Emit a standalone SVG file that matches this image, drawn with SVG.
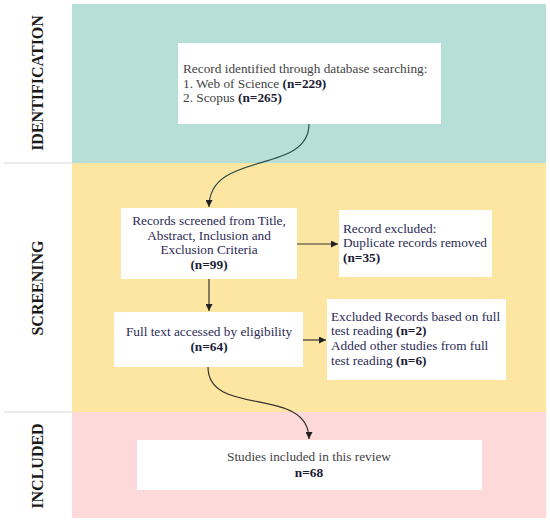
<svg xmlns="http://www.w3.org/2000/svg" width="550" height="522" viewBox="0 0 550 522">
<defs>
<marker id="ah" viewBox="0 0 10 10" refX="10" refY="5" markerWidth="7" markerHeight="7" markerUnits="userSpaceOnUse" orient="auto">
<path d="M0,0 L10,5 L0,10 z" fill="#222"/>
</marker>
<style>
.box{fill:#fff}
.t{font-family:"Liberation Serif","Times New Roman",serif;font-size:13.3px;fill:#2b2b55}
.g{fill:#444}
.b{font-weight:bold;fill:#1a1a33}
.lbl{font-family:"Liberation Serif","Times New Roman",serif;font-size:16px;font-weight:bold;fill:#1a1a1a;text-anchor:middle}
.c{fill:none;stroke:#333;stroke-width:1.2}
.sep{stroke:#e6e6e6;stroke-width:1.5}
</style>
</defs>
<rect width="550" height="522" fill="#fff"/>
<g id="bands">
<rect x="72" y="4" width="474" height="159" fill="#b6dfd8"/>
<rect x="72" y="163" width="474" height="249" fill="#fde6a1"/>
<rect x="72" y="412" width="474" height="106" fill="#fdd9da"/>
<line class="sep" x1="4" y1="163" x2="72" y2="163"/>
<line class="sep" x1="4" y1="412" x2="72" y2="412"/>
</g>
<g id="labels">
<text class="lbl" transform="translate(42.5,83) rotate(-90)">IDENTIFICATION</text>
<text class="lbl" transform="translate(42.5,288) rotate(-90)">SCREENING</text>
<text class="lbl" transform="translate(42.5,466) rotate(-90)">INCLUDED</text>
</g>
<g id="identified">
<rect class="box" x="178" y="43" width="263" height="81"/>
<text class="t g" x="183" y="73">Record identified through database searching:</text>
<text class="t g" x="183" y="88">1. Web of Science <tspan class="b">(n=229)</tspan></text>
<text class="t g" x="183" y="102">2. Scopus <tspan class="b">(n=265)</tspan></text>
</g>
<g id="screened">
<rect class="box" x="121" y="208" width="176" height="71"/>
<text class="t" x="209" y="225" text-anchor="middle">Records screened from Title,</text>
<text class="t" x="209" y="240" text-anchor="middle">Abstract, Inclusion and</text>
<text class="t" x="209" y="254" text-anchor="middle">Exclusion Criteria</text>
<text class="t b" x="209" y="269" text-anchor="middle">(n=99)</text>
</g>
<g id="excluded1">
<rect class="box" x="339" y="210" width="153" height="67"/>
<text class="t" x="343" y="233">Record excluded:</text>
<text class="t" x="343" y="247">Duplicate records removed</text>
<text class="t b" x="343" y="262">(n=35)</text>
</g>
<g id="fulltext">
<rect class="box" x="114" y="312" width="189" height="55"/>
<text class="t" x="209" y="336" text-anchor="middle">Full text accessed by eligibility</text>
<text class="t b" x="209" y="351" text-anchor="middle">(n=64)</text>
</g>
<g id="excluded2">
<rect class="box" x="327" y="299" width="179" height="81"/>
<text class="t" x="331" y="321">Excluded Records based on full</text>
<text class="t" x="331" y="335">test reading <tspan class="b">(n=2)</tspan></text>
<text class="t" x="331" y="350">Added other studies from full</text>
<text class="t" x="331" y="365">test reading <tspan class="b">(n=6)</tspan></text>
</g>
<g id="included">
<rect class="box" x="137" y="440" width="345" height="50"/>
<text class="t g" x="309" y="461" text-anchor="middle">Studies included in this review</text>
<text class="t b" x="309" y="477" text-anchor="middle">n=68</text>
</g>
<g id="connectors">
<path class="c" d="M309,124 C309,175 209,150 209,207" marker-end="url(#ah)" stroke="#2f4f4c" style="stroke:#2f4f4c"/>
<path class="c" d="M209,279 L209,311" marker-end="url(#ah)"/>
<path class="c" d="M297,244 L338,244" marker-end="url(#ah)"/>
<path class="c" d="M303,340 L326,340" marker-end="url(#ah)"/>
<path class="c" d="M208,367 C208,418 309,385 309,439" marker-end="url(#ah)"/>
</g>
</svg>
